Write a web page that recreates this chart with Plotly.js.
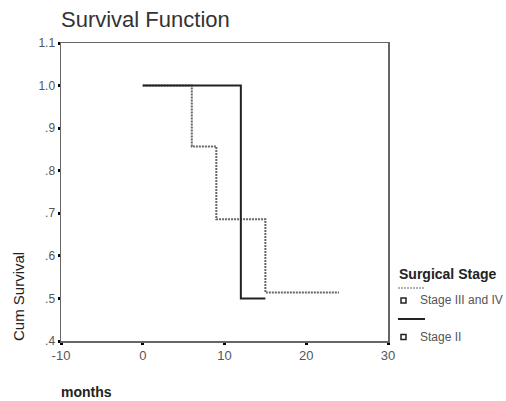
<!DOCTYPE html>
<html><head><meta charset="utf-8">
<script src="https://cdn.plot.ly/plotly-3.0.1.min.js"></script>
<style>html,body{margin:0;padding:0;background:#fff}</style>
</head><body><div id="chart" style="width:506px;height:401px"></div>
<script>
// Data
const stage34Months = [0, 6, 9, 15, 24];
const stage34Surv = [1.0, 0.857, 0.686, 0.514, 0.514];
const stage2Months = [0, 12, 15];
const stage2Surv = [1.0, 0.5, 0.5];
const yTickVals = [0.4, 0.5, 0.6, 0.7, 0.8, 0.9, 1.0, 1.1];
const yTickText = ['.4', '.5', '.6', '.7', '.8', '.9', '1.0', '1.1'];
const xTickVals = [-10, 0, 10, 20, 30];
const legendTitle = 'Surgical Stage';
const seriesNames = ['Stage III and IV', 'Stage II'];

const W = 506, H = 401;
const L = 61, R = 118, T = 43, B = 60;
const pw = W - L - R, ph = H - T - B;
const px = x => (x - L) / pw;
const py = y => (H - B - y) / ph;
const FONT = "'Liberation Sans', Arial, sans-serif";

const traces = [
  {x: stage34Months, y: stage34Surv, mode: 'lines', line: {shape: 'hv', color: '#666', width: 2, dash: '2px,1px'}, name: seriesNames[0], showlegend: false},
  {x: stage2Months, y: stage2Surv, mode: 'lines', line: {shape: 'hv', color: '#222', width: 2}, name: seriesNames[1], showlegend: false}
];

const shapes = [
  {type: 'line', xref: 'paper', yref: 'paper', x0: px(398), x1: px(425), y0: py(288), y1: py(288), line: {color: '#666', width: 1, dash: '2px,1px'}},
  {type: 'line', xref: 'paper', yref: 'paper', x0: px(398), x1: px(425), y0: py(319), y1: py(319), line: {color: '#222', width: 2}},
  {type: 'rect', xref: 'paper', yref: 'paper', x0: px(401), x1: px(406), y0: py(298), y1: py(303), line: {color: '#222', width: 1.5}},
  {type: 'rect', xref: 'paper', yref: 'paper', x0: px(401), x1: px(406), y0: py(334.5), y1: py(339.5), line: {color: '#222', width: 1.5}}
];

const annotations = [
  {text: 'Survival Function', xref: 'paper', yref: 'paper', x: px(59), y: py(20), xanchor: 'left', yanchor: 'middle', showarrow: false, font: {family: FONT, size: 22, color: '#333'}},
  {text: 'Cum Survival', xref: 'paper', yref: 'paper', x: px(18), y: py(297), xanchor: 'center', yanchor: 'middle', textangle: -90, showarrow: false, font: {family: FONT, size: 15, color: '#222'}},
  {text: '<b>months</b>', xref: 'paper', yref: 'paper', x: px(59), y: py(392), xanchor: 'left', yanchor: 'middle', showarrow: false, font: {family: FONT, size: 14, color: '#222'}},
  {text: '<b>' + legendTitle + '</b>', xref: 'paper', yref: 'paper', x: px(397), y: py(274), xanchor: 'left', yanchor: 'middle', showarrow: false, font: {family: FONT, size: 14, color: '#222'}},
  {text: seriesNames[0], xref: 'paper', yref: 'paper', x: px(418), y: py(300), xanchor: 'left', yanchor: 'middle', showarrow: false, font: {family: FONT, size: 12, color: '#555'}},
  {text: seriesNames[1], xref: 'paper', yref: 'paper', x: px(418), y: py(337), xanchor: 'left', yanchor: 'middle', showarrow: false, font: {family: FONT, size: 12, color: '#555'}}
];

const layout = {
  width: W, height: H,
  margin: {l: L, r: R, t: T, b: B, pad: 0},
  paper_bgcolor: '#fff', plot_bgcolor: '#fff',
  showlegend: false,
  font: {family: FONT, size: 12, color: '#555'},
  xaxis: {range: [-10, 30], tickvals: xTickVals, ticktext: xTickVals.map(String), showgrid: false, zeroline: false,
    showline: true, mirror: true, linecolor: '#666', linewidth: 1.5, ticks: 'outside', ticklen: 2, tickwidth: 3, tickcolor: '#000',
    tickfont: {family: FONT, size: 13, color: '#555'}},
  yaxis: {range: [0.4, 1.1], tickvals: yTickVals, ticktext: yTickText, showgrid: false, zeroline: false,
    showline: true, mirror: true, linecolor: '#666', linewidth: 1.5, ticks: 'outside', ticklen: 2, tickwidth: 3, tickcolor: '#000',
    tickfont: {family: FONT, size: 12, color: '#555'}},
  shapes: shapes,
  annotations: annotations
};

Plotly.newPlot('chart', traces, layout, {displayModeBar: false, staticPlot: true});
</script></body></html>
